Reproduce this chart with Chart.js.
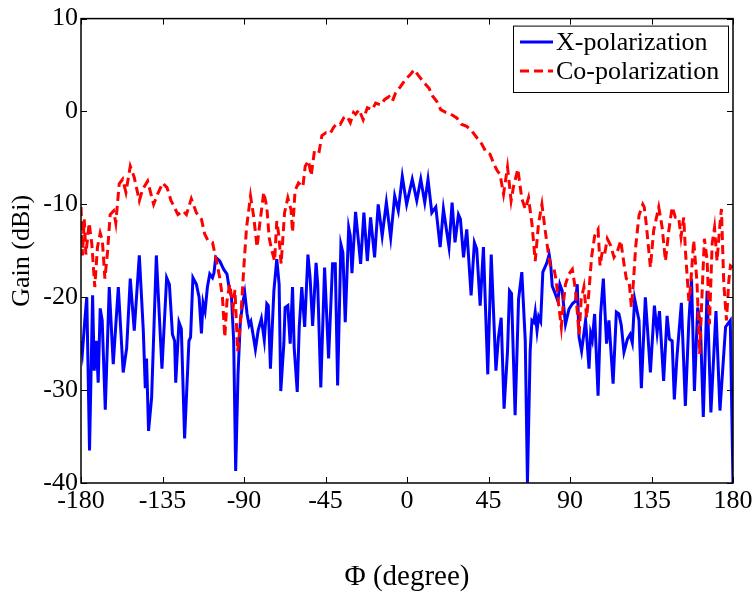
<!DOCTYPE html>
<html>
<head>
<meta charset="utf-8">
<script src="https://cdn.jsdelivr.net/npm/chart.js@4.4.1/dist/chart.umd.min.js"></script>
<style>
  html, body { margin: 0; padding: 0; background: #fff; }
  #wrap { width: 756px; height: 599px; }
</style>
</head>
<body>
<div id="wrap"><canvas id="gainChart" width="756" height="599"></canvas></div>
<script>
// X-polarization (blue, solid)
const xpolAngle = [-180, -179.2, -177.9, -176.8, -175.3, -173.6, -172.7, -171.6, -170.5, -169.4, -168.3, -166.6, -164.4, -162.2, -159.4, -156.7, -154.8, -152.8, -150.6, -147.8,
  -145.6, -144.5, -143.8, -142.7, -141, -138.4, -135.3, -132.7, -131.2, -129.5, -128.3, -127.7, -125.9, -124.6, -122.8, -120.4, -119.5, -118.2, -116.3, -114.8,
  -113.5, -112.6, -111.5, -110.2, -108.9, -107.4, -106.6, -105.6, -103.4, -101.2, -99.4, -98.3, -96.9, -95.7, -94.6, -93.3, -92, -90.5, -89.6, -88.3,
  -87.2, -86.2, -85, -83.7, -82.2, -80.4, -78.8, -77.4, -76.6, -75.4, -73.5, -71.9, -70.6, -69.7, -68, -67.3, -65.8, -64.5, -63.2, -62.3,
  -60.6, -59.5, -58.1, -56.5, -54.7, -53.5, -52.1, -50.2, -49.3, -47.6, -45.5, -43.3, -41.1, -39.6, -38.3, -36.5, -35.4, -34.1, -32.2, -31.3,
  -30.4, -28.4, -25.6, -23.8, -21.9, -20.1, -17.9, -15.9, -13.7, -11.4, -9, -6.8, -4.8, -2.6, -0.2, 2.9, 5.4, 7.6, 9.8, 11.6,
  13.7, 15.9, 18.3, 20.1, 23.2, 24.9, 26.5, 28.4, 29.5, 31.2, 33, 35.4, 37.2, 38.5, 40.4, 42.2, 44.6, 46.5, 49.1, 50.5,
  52, 53.6, 55.5, 56.6, 57.7, 59.7, 61.6, 63.4, 65.3, 66.5, 68, 69, 70, 70.8, 71.8, 72.7, 73.8, 75, 77.2, 78.5,
  79.3, 80.2, 82, 83.3, 84.4, 85.7, 87.5, 89.4, 91.3, 93.1, 94, 95, 96.4, 98.6, 100.5, 101.4, 102.3, 103.6, 105.5, 106.9,
  108.4, 110.2, 111.5, 113.8, 115.6, 117, 118.3, 119.8, 121.7, 123.2, 124.4, 125.7, 128.1, 129.4, 131.6, 134.4, 136.6, 138.1, 139.4, 141.7,
  143.6, 144.9, 146.4, 147.6, 149.1, 151.5, 153.7, 155.6, 157.1, 158.7, 160.5, 162, 163.6, 165.7, 167.8, 170.6, 172.8, 175.9, 178.5, 180];
const xpolGain = [-24.7, -25.9, -22.5, -20.0, -36.5, -19.8, -27.9, -24.7, -29.2, -21.2, -22.5, -32.1, -18.9, -27.2, -18.9, -28.1, -25.5, -18.0, -23.6, -15.5,
  -23.6, -29.8, -26.6, -34.4, -30.8, -15.5, -27.7, -17.9, -18.6, -24.0, -24.7, -29.2, -22.7, -23.4, -35.2, -24.7, -24.3, -17.9, -18.6, -20.0,
  -23.9, -20.6, -21.5, -18.9, -17.5, -17.9, -17.4, -15.7, -16.1, -17.0, -17.5, -18.9, -20.0, -24.7, -38.7, -28.3, -22.5, -20.4, -19.5, -21.8,
  -23.0, -22.6, -24.0, -25.6, -23.6, -22.3, -24.6, -20.7, -20.9, -27.7, -19.3, -15.9, -18.6, -30.1, -25.0, -21.1, -20.9, -25.0, -18.9, -25.4,
  -30.2, -23.2, -18.9, -23.2, -15.4, -17.9, -23.1, -16.3, -18.6, -29.7, -16.8, -26.6, -16.4, -16.4, -29.5, -14.3, -15.2, -22.7, -12.5, -13.4,
  -17.4, -10.8, -16.4, -10.9, -16.1, -11.4, -15.7, -10.0, -13.4, -9.8, -13.6, -9.1, -10.7, -7.0, -10.0, -7.3, -9.6, -7.3, -9.8, -7.3,
  -10.9, -10.3, -14.6, -10.5, -14.6, -9.8, -14.1, -11.1, -11.6, -15.7, -12.7, -19.8, -14.1, -14.8, -20.9, -14.6, -28.3, -15.4, -27.9, -24.3,
  -22.2, -32.0, -25.8, -19.3, -19.6, -32.7, -20.2, -17.3, -24.7, -40, -25.8, -22.5, -22.7, -21.6, -23.6, -22.1, -22.6, -17.3, -16.3, -15.4,
  -16.4, -18.8, -19.7, -20.4, -18.6, -19.3, -22.9, -21.3, -20.7, -20.4, -18.6, -24.3, -25.8, -22.5, -27.7, -23.9, -24.6, -21.8, -30.6, -21.8,
  -18.0, -25.0, -22.5, -29.3, -21.6, -21.8, -23.0, -25.9, -24.5, -24.0, -24.9, -20.2, -22.5, -29.8, -20.0, -28.1, -20.9, -23.8, -21.5, -29.0,
  -22.0, -24.5, -24.7, -31.0, -26.3, -20.6, -31.7, -22.7, -18.0, -30.1, -21.1, -22.9, -32.9, -19.3, -32.4, -21.5, -32.2, -23.2, -22.5, -40];

// Co-polarization (red, dashed)
const copolAngle = [-180, -179.2, -178.2, -177.3, -175.5, -174, -172.4, -170.9, -169.4, -168.2, -166.8, -165.3, -163.9, -162, -160.8, -158.9, -157, -155.2, -152.8, -150.6,
  -147.8, -146, -143.2, -139.9, -137.7, -134.9, -132.5, -130.3, -129.2, -126.5, -123.7, -121.8, -119.1, -116.3, -113.5, -111.7, -109.9, -107.4, -105.2, -103.4,
  -101.9, -100.6, -99.4, -97.9, -96, -95, -93.5, -92, -90.1, -88.6, -86.4, -84.6, -82.8, -81.3, -79.1, -77.4, -76.1, -74.6, -73.1, -71.9,
  -70.8, -69.5, -67.6, -65.8, -64, -63.2, -61.8, -59.9, -57.5, -56.2, -54.4, -52.9, -51, -48.5, -47, -44.8, -42.5, -40.5, -38.7, -36.9,
  -35, -33.2, -31.3, -29.5, -28.4, -26.5, -24.2, -21.9, -19.2, -17.3, -14.5, -12.3, -9.9, -8.1, -6.3, -3.5, -0.7, 2, 3.9, 6.6,
  9.4, 12.2, 14, 16.4, 18.6, 21.4, 24.2, 27.5, 30.3, 33, 35.8, 38.5, 41.3, 43.7, 45.8, 48.1, 49.6, 51.4, 53.3, 55.5,
  57.5, 58.8, 61.2, 63.4, 65.3, 67.1, 69, 70.8, 72.6, 74.5, 76.3, 78.2, 79.3, 81.2, 82.4, 83.5, 85.2, 86.3, 87.5, 89.4,
  91.3, 93.1, 95, 96.2, 97.7, 99.2, 100.5, 101.9, 103.6, 105.5, 106.6, 107.8, 109.1, 110.6, 112.4, 114.3, 116.1, 118, 119.8, 121.1,
  122.6, 123.9, 125, 126.3, 128.1, 130.2, 131, 132.2, 134.4, 136.2, 139, 140.9, 142.7, 144.5, 146.4, 148.2, 150, 151.3, 152.8, 153.7,
  155.6, 156.5, 158.3, 160.1, 161.6, 162.9, 164.2, 165.7, 167, 168.5, 169.8, 171.2, 172.5, 173.6, 174.9, 176.4, 177.7, 178.6, 180];
const copolGain = [-10.3, -15.5, -11.6, -15.4, -12.0, -14.3, -18.9, -14.6, -13.1, -13.9, -18.0, -15.0, -11.1, -10.7, -12.0, -7.8, -7.3, -8.7, -5.9, -7.1,
  -9.6, -8.4, -7.5, -10.0, -8.9, -7.7, -8.2, -9.6, -10.0, -11.1, -10.7, -11.1, -9.4, -10.9, -11.6, -13.2, -13.9, -14.1, -16.1, -17.9,
  -20.0, -24.3, -20.4, -18.6, -21.1, -19.2, -25.8, -22.9, -16.8, -12.5, -9.1, -11.4, -14.6, -12.1, -8.7, -10.3, -13.6, -15.0, -16.1, -11.8,
  -13.3, -16.4, -10.9, -9.3, -10.6, -13.0, -8.5, -7.7, -8.1, -5.9, -5.3, -6.9, -4.1, -4.3, -2.6, -2.3, -2.4, -1.7, -1.3, -1.4,
  -0.7, -0.5, -1.2, -0.1, -0.3, 0.2, -0.9, 0.4, 0.2, 0.9, 0.7, 1.3, 1.6, 1.1, 2.0, 2.7, 3.5, 4.0, 4.5, 3.8,
  3.1, 2.5, 1.7, 1.1, 0.2, -0.1, -0.3, -0.7, -1.4, -1.6, -2.1, -2.8, -3.5, -4.4, -4.6, -5.7, -6.3, -6.8, -8.9, -6.0,
  -9.6, -8.1, -6.2, -9.4, -10.5, -9.3, -12.1, -16.1, -12.1, -10.0, -12.8, -15.5, -16.8, -17.0, -18.2, -20.4, -23.2, -20.7, -18.6, -17.5,
  -17.0, -19.3, -24.0, -20.2, -18.9, -22.2, -19.3, -15.7, -13.4, -12.7, -16.6, -15.1, -15.4, -13.7, -14.4, -15.7, -15.1, -13.9, -16.4, -18.0,
  -18.2, -21.1, -18.4, -14.5, -11.2, -10.0, -10.3, -12.3, -16.8, -12.8, -10.3, -12.5, -16.1, -12.9, -10.3, -11.4, -11.4, -13.5, -11.4, -14.9,
  -20.4, -19.0, -13.9, -18.3, -26.1, -19.7, -13.7, -16.0, -22.9, -14.2, -12.5, -16.1, -12.8, -10.5, -18.5, -22.5, -18.2, -16.6, -16.8];

const angleTicks = [-180, -135, -90, -45, 0, 45, 90, 135, 180];
const gainTicks = [-40, -30, -20, -10, 0, 10];
const seriesNames = ['X-polarization', 'Co-polarization'];

const serif = "'Liberation Serif', 'Times New Roman', serif";

function toPoints(angles, gains) {
    return angles.map((a, i) => ({ x: a, y: gains[i] }));
}

// box round the plot plus inward ticks on all four sides, MATLAB style
const framePlugin = {
    id: 'frame',
    afterDatasetsDraw(chart) {
        const { ctx, chartArea: a, scales: { x, y } } = chart;
        const tick = 6;
        ctx.save();
        ctx.strokeStyle = '#000';
        ctx.lineWidth = 1.5;
        ctx.strokeRect(a.left, a.top, a.right - a.left, a.bottom - a.top);
        ctx.lineWidth = 1;
        ctx.beginPath();
        angleTicks.forEach(v => {
            const px = Math.round(x.getPixelForValue(v)) + 0.5;
            ctx.moveTo(px, a.bottom); ctx.lineTo(px, a.bottom - tick);
            ctx.moveTo(px, a.top); ctx.lineTo(px, a.top + tick);
        });
        gainTicks.forEach(v => {
            const py = Math.round(y.getPixelForValue(v)) + 0.5;
            ctx.moveTo(a.left, py); ctx.lineTo(a.left + tick, py);
            ctx.moveTo(a.right, py); ctx.lineTo(a.right - tick, py);
        });
        ctx.stroke();
        ctx.restore();
    }
};

// legend box in the top right corner of the plot
const legendPlugin = {
    id: 'boxLegend',
    afterDraw(chart) {
        const { ctx, chartArea: a } = chart;
        const boxRight = a.right - 5, boxTop = a.top + 7;
        const boxLeft = 513, boxBottom = 92;
        ctx.save();
        ctx.fillStyle = '#fff';
        ctx.fillRect(boxLeft, boxTop, boxRight - boxLeft, boxBottom - boxTop);
        ctx.strokeStyle = '#000';
        ctx.lineWidth = 1;
        ctx.strokeRect(boxLeft + 0.5, boxTop + 0.5, boxRight - boxLeft, boxBottom - boxTop);
        ctx.font = '26px ' + serif;
        ctx.textBaseline = 'middle';
        ctx.fillStyle = '#000';
        const rows = [42, 71];
        [0, 1].forEach(i => {
            const ds = chart.data.datasets.find(d => d.label === seriesNames[i]);
            ctx.strokeStyle = ds.borderColor;
            ctx.lineWidth = ds.borderWidth;
            ctx.setLineDash(ds.borderDash || []);
            ctx.beginPath();
            ctx.moveTo(520, rows[i]);
            ctx.lineTo(553, rows[i]);
            ctx.stroke();
            ctx.setLineDash([]);
            ctx.fillText(seriesNames[i], 556, rows[i] + 1);
        });
        ctx.restore();
    }
};

const chart = new Chart(document.getElementById('gainChart'), {
    type: 'line',
    data: {
        datasets: [
            {
                label: seriesNames[1],
                data: toPoints(copolAngle, copolGain),
                borderColor: '#ff0000',
                borderWidth: 3,
                borderDash: [9, 5],
                pointRadius: 0,
                tension: 0,
                order: 0
            },
            {
                label: seriesNames[0],
                data: toPoints(xpolAngle, xpolGain),
                borderColor: '#0000ff',
                borderWidth: 3,
                pointRadius: 0,
                tension: 0,
                order: 1
            }
        ]
    },
    options: {
        responsive: false,
        animation: false,
        devicePixelRatio: 1,
        layout: { padding: { top: 17, right: 23, left: 0, bottom: 0 } },
        plugins: {
            legend: { display: false },
            tooltip: { enabled: false }
        },
        scales: {
            x: {
                type: 'linear',
                min: -180,
                max: 180,
                afterBuildTicks: scale => { scale.ticks = angleTicks.map(v => ({ value: v })); },
                afterFit: scale => { scale.height = 116; },
                grid: { display: false, drawTicks: false },
                border: { display: false },
                ticks: { color: '#000', padding: 3, maxRotation: 0, font: { family: serif, size: 26 } },
                title: {
                    display: true,
                    text: 'Φ (degree)',
                    color: '#000',
                    font: { family: serif, size: 29 },
                    padding: { top: 0, bottom: 4 }
                }
            },
            y: {
                min: -40,
                max: 10,
                afterBuildTicks: scale => { scale.ticks = gainTicks.map(v => ({ value: v })); },
                afterFit: scale => { scale.width = 81; },
                grid: { display: false, drawTicks: false },
                border: { display: false },
                ticks: { color: '#000', padding: 3, font: { family: serif, size: 26 } },
                title: {
                    display: true,
                    text: 'Gain (dBi)',
                    color: '#000',
                    font: { family: serif, size: 26 },
                    padding: { top: 7, bottom: 0 }
                }
            }
        }
    },
    plugins: [framePlugin, legendPlugin]
});
</script>
</body>
</html>
